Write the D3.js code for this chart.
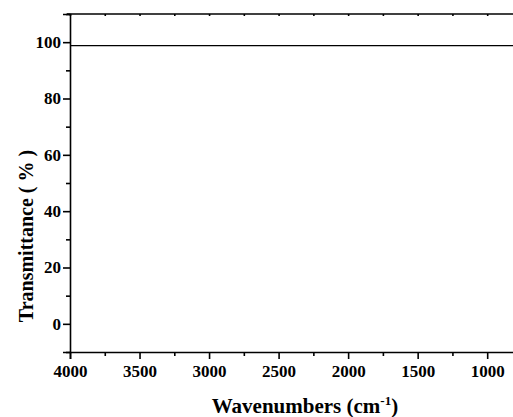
<!DOCTYPE html>
<html>
<head>
<meta charset="utf-8">
<script src="https://cdn.jsdelivr.net/npm/d3@7"></script>
<style>
  body { margin: 0; background: #fff; }
  svg { display: block; }
  text { font-family: "Liberation Serif", "Times New Roman", serif; font-weight: bold; fill: #000; }
</style>
</head>
<body>
<div id="chart"></div>
<script>
// FTIR spectrum: flat transmittance near 99 %
const wavenumbers = [4000, 3800, 3600, 3400, 3200, 3000, 2800, 2600, 2400, 2200, 2000, 1800, 1600, 1400, 1200, 1000, 800];
const transmittance = [98.8, 98.8, 98.8, 98.8, 98.8, 98.8, 98.8, 98.8, 98.8, 98.8, 98.8, 98.8, 98.8, 98.8, 98.8, 98.8, 98.8];
const xTicks = [4000, 3500, 3000, 2500, 2000, 1500, 1000];
const yTicks = [0, 20, 40, 60, 80, 100];

const W = 513, H = 417;
const margin = { top: 14, right: -2, bottom: 65, left: 70 };
const width = W - margin.left - margin.right;
const height = H - margin.top - margin.bottom;
const serif = '"Liberation Serif", "Times New Roman", serif';

const svg = d3.select("#chart").append("svg")
    .attr("width", W)
    .attr("height", H);

const g = svg.append("g")
    .attr("transform", `translate(${margin.left},${margin.top})`);

// scales
const x = d3.scaleLinear().domain([4000, 800]).range([0, width]);
const y = d3.scaleLinear().domain([-10, 110]).range([height, 0]);

// minor ticks (between majors)
const xMinor = d3.range(3750, 799, -500);
const yMinor = d3.range(-10, 111, 20);

// bottom axis
const xAxis = g.append("g")
    .attr("transform", `translate(0,${height})`)
    .call(d3.axisBottom(x).tickValues(xTicks).tickSize(7).tickPadding(6).tickFormat(d3.format("d")));
g.append("g")
    .attr("transform", `translate(0,${height})`)
    .call(d3.axisBottom(x).tickValues(xMinor).tickSize(4).tickFormat(""))
    .select(".domain").remove();

// left axis
const yAxis = g.append("g")
    .call(d3.axisLeft(y).tickValues(yTicks).tickSize(7).tickPadding(2));
g.append("g")
    .call(d3.axisLeft(y).tickValues(yMinor).tickSize(4).tickFormat(""))
    .select(".domain").remove();

// top axis (ticks only, no labels)
g.append("g")
    .call(d3.axisTop(x).tickValues(xTicks.concat(xMinor)).tickSize(-2).tickFormat(""))
    .select(".domain").attr("d", `M-3,0H${width}`);

g.selectAll("g").attr("font-family", serif);
g.selectAll(".tick text")
    .style("font-family", serif)
    .style("font-weight", "bold")
    .style("font-size", "17px")
    .attr("fill", "#000");
g.selectAll(".domain, .tick line")
    .attr("stroke", "#000")
    .attr("stroke-width", 1.6);

// spectrum line
const line = d3.line()
    .x((d, i) => x(wavenumbers[i]))
    .y(d => y(d));

g.append("path")
    .datum(transmittance)
    .attr("fill", "none")
    .attr("stroke", "#000")
    .attr("stroke-width", 1.3)
    .attr("d", line);

// axis titles
svg.append("text")
    .attr("transform", `translate(33,236) rotate(-90)`)
    .attr("text-anchor", "middle")
    .style("font-size", "20px")
    .text("Transmittance ( % )");

const xt = svg.append("text")
    .attr("x", 305)
    .attr("y", 413)
    .attr("text-anchor", "middle")
    .style("font-size", "21px");
xt.append("tspan").text("Wavenumbers (cm");
xt.append("tspan").attr("dy", -8).style("font-size", "13px").text("-1");
xt.append("tspan").attr("dy", 8).text(")");
</script>
</body>
</html>
